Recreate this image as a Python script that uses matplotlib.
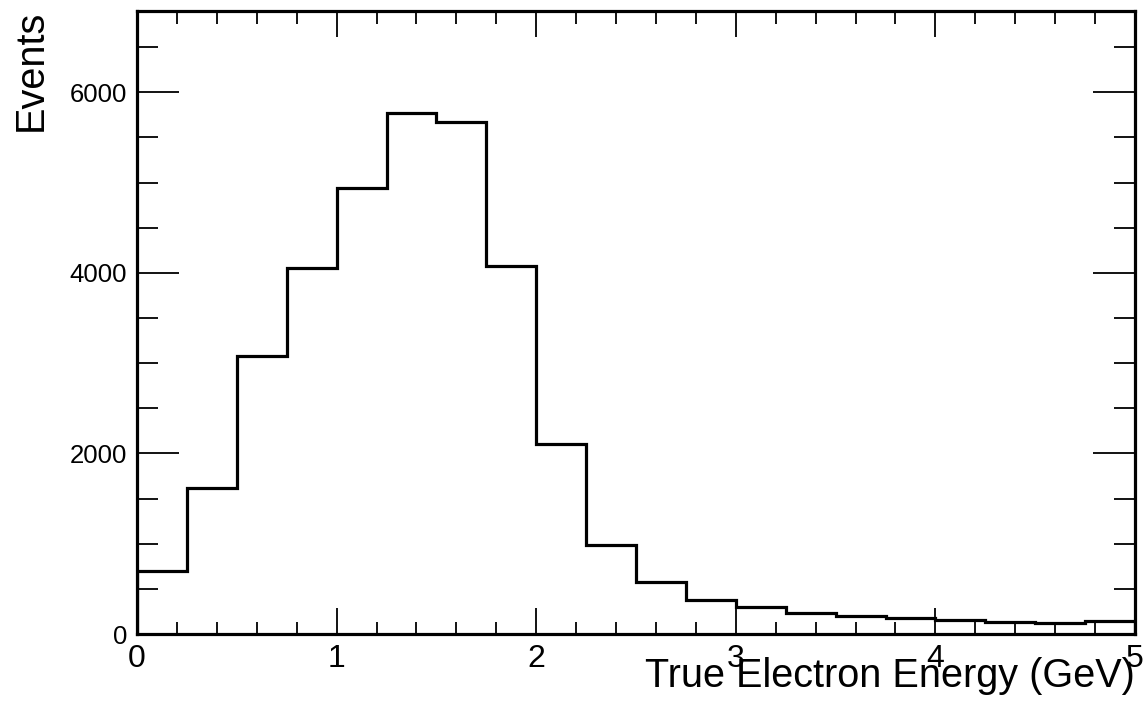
import matplotlib
matplotlib.use("Agg")
import matplotlib.pyplot as plt
import numpy as np

bin_edges = [0.0, 0.25, 0.5, 0.75, 1.0, 1.25, 1.5, 1.75, 2.0, 2.25, 2.5,
             2.75, 3.0, 3.25, 3.5, 3.75, 4.0, 4.25, 4.5, 4.75, 5.0]
events = [702, 1618, 3074, 4051, 4936, 5768, 5668, 4072, 2106, 987,
          572, 372, 295, 236, 195, 177, 151, 129, 127, 140]

x_ticks = [0, 1, 2, 3, 4, 5]
y_ticks = [0, 2000, 4000, 6000]

plt.rcParams['font.family'] = ['Liberation Sans', 'DejaVu Sans']

W, H = 1148, 713
fig = plt.figure(figsize=(W / 100, H / 100), dpi=100)
l, r, t, b = 137, 1135, 11, 634
ax = fig.add_axes([l / W, 1 - b / H, (r - l) / W, (b - t) / H])

ax.stairs(events, bin_edges, color='black', linewidth=2.3, baseline=0)

ax.set_xlim(0, 5)
ax.set_ylim(0, 6900)
ax.set_xticks(x_ticks)
ax.set_xticklabels([str(v) for v in x_ticks])
ax.set_yticks(y_ticks)
ax.set_yticklabels([str(v) for v in y_ticks])
ax.set_xticks(np.arange(0, 5.001, 0.2), minor=True)
ax.set_yticks(np.arange(0, 6900, 500), minor=True)

for s in ax.spines.values():
    s.set_linewidth(2.3)

ax.tick_params(axis='both', which='both', direction='in', top=True, right=True, color='black')
ax.tick_params(axis='x', which='major', length=19, width=1.3, labelsize=23, pad=7.5)
ax.tick_params(axis='x', which='minor', length=9, width=1.3)
ax.tick_params(axis='y', which='major', length=30, width=1.3, labelsize=18.5, pad=7)
ax.tick_params(axis='y', which='minor', length=15, width=1.3)

fig.text(1135 / W, 1 - 687 / H, 'True Electron Energy (GeV)', ha='right', va='baseline', fontsize=28.5)
fig.text(42 / W, 1 - 10 / H, 'Events', ha='right', va='baseline', rotation=90,
         rotation_mode='anchor', fontsize=28.5)

fig.savefig('out.png', dpi=100, facecolor='white')
